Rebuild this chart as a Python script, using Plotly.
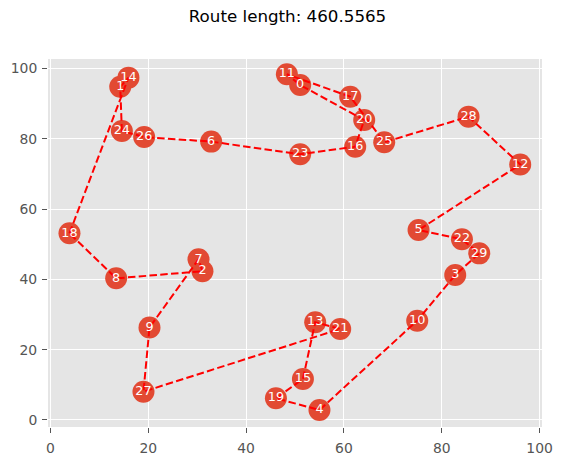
import plotly.graph_objects as go

# Node coordinates (index = node id)
node_x = [51.06, 14.27, 31.08, 82.76, 55.00, 75.26, 32.86, 30.27, 13.44, 20.25,
          74.99, 48.34, 96.05, 54.13, 15.95, 51.62, 62.31, 61.29, 3.89, 46.10,
          64.15, 59.24, 84.13, 51.06, 14.60, 68.24, 19.16, 19.02, 85.48, 87.67]
node_y = [95.30, 94.80, 42.30, 41.25, 2.84, 54.05, 79.20, 45.70, 40.30, 26.30,
          28.25, 98.35, 72.70, 27.80, 97.40, 11.66, 77.75, 91.98, 53.10, 6.17,
          85.35, 25.90, 51.40, 75.60, 82.20, 79.00, 80.50, 8.05, 86.30, 47.40]
node_labels = [str(i) for i in range(len(node_x))]

# Tour order (closed)
route = [18, 14, 1, 24, 26, 6, 23, 16, 20, 0, 11, 17, 25, 28, 12, 5, 22, 29, 3,
         10, 4, 19, 15, 13, 21, 27, 9, 7, 2, 8, 18]
route_length = 460.5565

x_ticks = [0, 20, 40, 60, 80, 100]
y_ticks = [0, 20, 40, 60, 80, 100]

route_x = [node_x[i] for i in route]
route_y = [node_y[i] for i in route]

FONT = "DejaVu Sans"

fig = go.Figure()
fig.add_trace(go.Scatter(
    x=node_x, y=node_y, mode="markers",
    marker=dict(size=22, color="#E24A33", line=dict(width=0)),
    hoverinfo="skip", showlegend=False))
fig.add_trace(go.Scatter(
    x=route_x, y=route_y, mode="lines",
    line=dict(color="#FF0000", width=2, dash="7.5px,3.3px"),
    hoverinfo="skip", showlegend=False))
fig.add_trace(go.Scatter(
    x=node_x, y=node_y, mode="text", text=node_labels,
    textposition="middle center",
    textfont=dict(family=FONT, size=12.8, color="white"),
    hoverinfo="skip", showlegend=False))

axis_common = dict(
    showgrid=True, gridcolor="white", gridwidth=1,
    zeroline=False, showline=False, automargin=False,
    ticks="outside", ticklen=5, tickwidth=1, tickcolor="#555555",
    tickfont=dict(family=FONT, size=13.9, color="#555555"),
)

fig.update_layout(
    width=562, height=461,
    margin=dict(l=48, r=20, t=59, b=34, autoexpand=False),
    paper_bgcolor="white", plot_bgcolor="#E5E5E5",
    title=dict(text=f"Route length: {route_length}",
               x=287.5 / 562, xref="container", xanchor="center",
               y=1 - 16.0 / 461, yref="container", yanchor="middle",
               automargin=False,
               font=dict(family=FONT, size=16.7, color="black")),
    xaxis=dict(range=[-0.5, 100.5], tickvals=x_ticks, ticklabelstandoff=3,
               **axis_common),
    yaxis=dict(range=[-2.0, 102.7], tickvals=y_ticks, ticklabelstandoff=2,
               **axis_common),
)

fig.write_html("out.html")
